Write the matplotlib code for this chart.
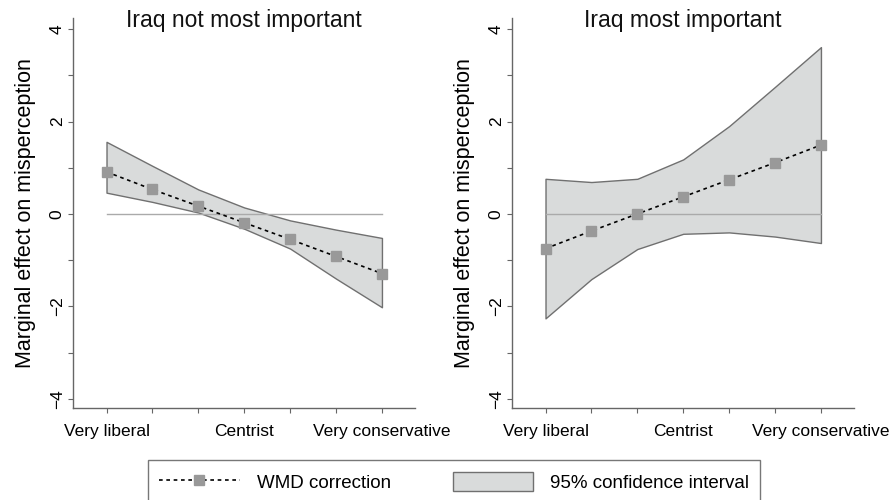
import matplotlib
matplotlib.use("Agg")
import matplotlib.pyplot as plt
from matplotlib.lines import Line2D
from matplotlib.patches import Patch
from matplotlib.ticker import FixedLocator

plt.rcParams['font.family'] = ['Liberation Sans', 'DejaVu Sans']

ideology = [1, 2, 3, 4, 5, 6, 7]
tick_labels = ["Very liberal", "", "", "Centrist", "", "", "Very conservative"]

titles = ["Iraq not most important", "Iraq most important"]

effect_not = [0.91, 0.53, 0.17, -0.19, -0.55, -0.92, -1.29]
upper_not = [1.56, 1.04, 0.53, 0.14, -0.14, -0.34, -0.52]
lower_not = [0.46, 0.26, 0.03, -0.32, -0.75, -1.40, -2.02]

effect_most = [-0.75, -0.37, 0.00, 0.37, 0.74, 1.11, 1.49]
upper_most = [0.76, 0.69, 0.76, 1.18, 1.90, 2.75, 3.61]
lower_most = [-2.26, -1.41, -0.76, -0.43, -0.40, -0.49, -0.63]

panels = [(effect_not, upper_not, lower_not), (effect_most, upper_most, lower_most)]

fig = plt.figure(figsize=(8.96, 5.0), dpi=100)
W, H = 896, 500
ax_lefts = [73, 512]
spine_col = "#666666"
fill_col = "#d9dbdb"
edge_col = "#707070"
marker_col = "#999999"

for i, (eff, up, lo) in enumerate(panels):
    x0 = ax_lefts[i]
    ax = fig.add_axes([x0 / W, 1 - 408 / H, 342 / W, 390 / H])
    ax.fill_between(ideology, lo, up, facecolor=fill_col, edgecolor=edge_col, linewidth=1.0, zorder=1)
    ax.plot([ideology[0], ideology[-1]], [0, 0], color="#aaaaaa", linewidth=1.0, zorder=2)
    ax.plot(ideology, eff, color="black", linestyle=(0, (2.2, 2.2)), linewidth=1.2,
            marker="s", markersize=6.5, markerfacecolor=marker_col, markeredgecolor=marker_col, zorder=3)
    ax.set_xlim(0.27, 7.72)
    ax.set_ylim(-4.2, 4.24)
    for s in ["top", "right"]:
        ax.spines[s].set_visible(False)
    for s in ["left", "bottom"]:
        ax.spines[s].set_color(spine_col)
        ax.spines[s].set_linewidth(1.0)
    ax.yaxis.set_major_locator(FixedLocator([-4, -2, 0, 2, 4]))
    ax.yaxis.set_minor_locator(FixedLocator([-3, -1, 1, 3]))
    ax.set_yticklabels(["\u22124", "\u22122", "0", "2", "4"], rotation=90, va="center", fontsize=12.5)
    ax.set_xticks(ideology)
    ax.set_xticklabels(tick_labels, fontsize=12.5)
    ax.tick_params(axis="both", which="both", length=3.5, width=0.8, color=spine_col, direction="out")
    ax.tick_params(axis="y", pad=2.5)
    ax.tick_params(axis="x", pad=8)
    ax.set_ylabel("Marginal effect on misperception", fontsize=15.5, labelpad=9.5)
    ax.text(0.5, (408 - 27) / 390, titles[i], transform=ax.transAxes, ha="center", va="baseline",
            fontsize=16.5, color="#111111")

handles = [
    Line2D([0], [0], color="black", linestyle=(0, (2.2, 2.2)), linewidth=1.2, marker="s",
           markersize=6.5, markerfacecolor=marker_col, markeredgecolor=marker_col),
    Patch(facecolor=fill_col, edgecolor=edge_col, linewidth=1.0),
]
leg = fig.legend(handles, ["WMD correction", "95% confidence interval"], ncol=2,
                 loc="upper center", bbox_to_anchor=(454 / W, 1 - 451 / H), fontsize=13.5,
                 frameon=True, fancybox=False, edgecolor="#555555", handlelength=4.3,
                 handleheight=1.2, handletextpad=0.9, columnspacing=3.3, borderpad=0.6)
leg.get_frame().set_linewidth(1.0)

fig.savefig("out.png", dpi=100)
